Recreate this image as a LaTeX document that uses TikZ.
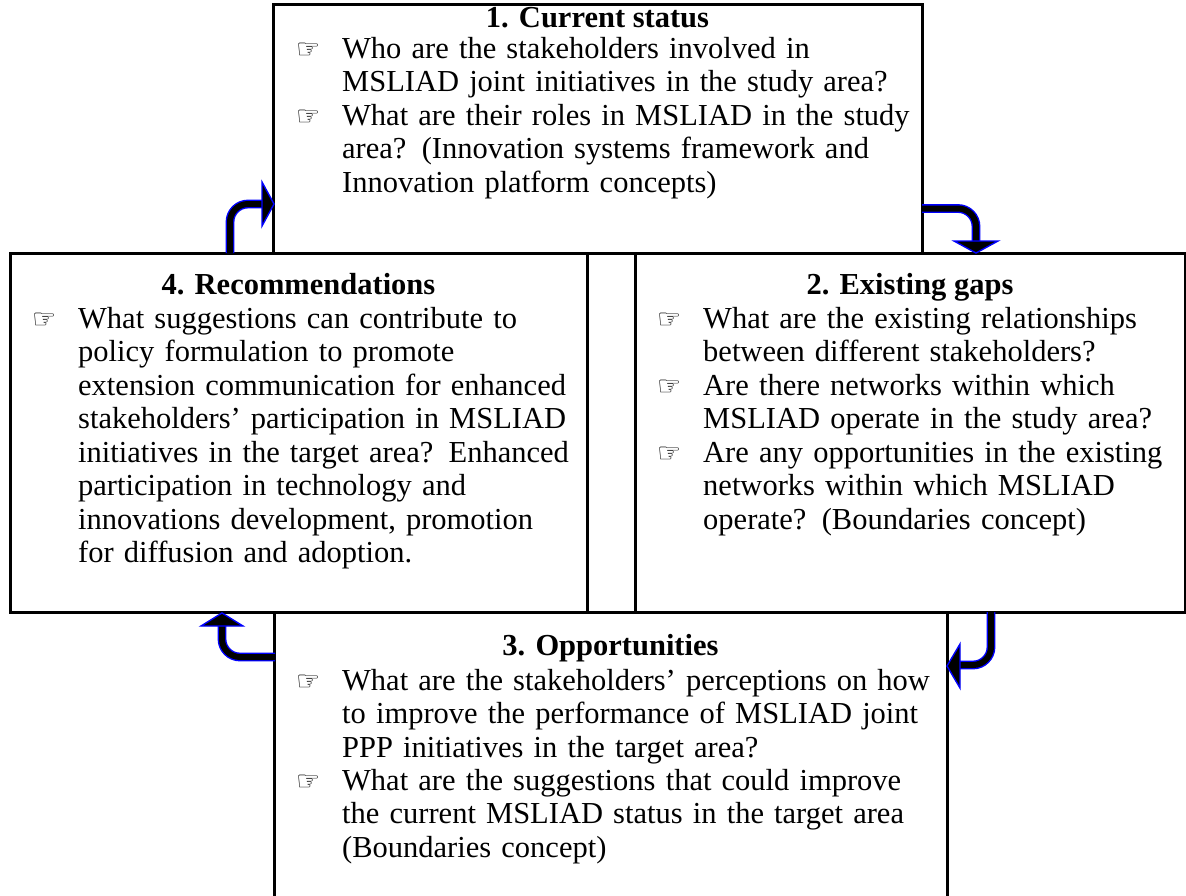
\documentclass[tikz,border=0pt]{standalone}
\usepackage{fontspec}
\setmainfont{Liberation Serif}
\newfontfamily\dejavu{DejaVu Sans}
\newcommand{\handglyph}{{\dejavu\fontsize{27}{27}\selectfont ☞}}
\begin{document}
\begin{tikzpicture}[x=1pt,y=-1pt,
  box/.style={draw, line width=3pt, rectangle, inner sep=0pt, outer sep=0pt},
  head/.style={font=\fontsize{30.5}{33.5}\selectfont\bfseries, anchor=base, inner sep=0pt},
  para/.style={font=\fontsize{30.5}{33.5}\selectfont, anchor=base west, inner sep=0pt, align=left, text width=640pt},
  bul/.style={anchor=base west, inner sep=0pt},
  bentarrow/.style={draw=blue, line width=1.4pt, double=black, double distance=6pt, rounded corners=18pt},
  arrowhead/.style={draw=blue, fill=black, line width=1.4pt, line join=miter}]
\useasboundingbox (0,0) rectangle (1186,895);
\clip (0,0) rectangle (1186,895);
% boxes
\node[box, minimum width=649pt, minimum height=249pt] (b1) at (597.5,128.5) {};
\node[box, minimum width=577pt, minimum height=359pt] (b4) at (298.5,432.5) {};
\node[box, minimum width=550pt, minimum height=359pt] (b2) at (910,432.5) {};
\node[box, minimum width=673pt, minimum height=298pt] (b3) at (610.5,761) {};
% box 1
\node[head] (h1) at (597.5,27) {1. Current status};
\node[bul] (k1a) at (296,58) {\handglyph};
\node[para] (p1a) at (342,58) {Who are the stakeholders involved in\\MSLIAD joint initiatives in the study area?};
\node[bul] (k1b) at (296,125) {\handglyph};
\node[para] (p1b) at (342,125) {What are their roles in MSLIAD in the study\\area? (Innovation systems framework and\\Innovation platform concepts)};
% box 4
\node[head] (h4) at (298.5,294) {4. Recommendations};
\node[bul] (k4a) at (32,328) {\handglyph};
\node[para] (p4a) at (78,328) {What suggestions can contribute to\\policy formulation to promote\\extension communication for enhanced\\stakeholders’ participation in MSLIAD\\initiatives in the target area? Enhanced\\participation in technology and\\innovations development, promotion\\for diffusion and adoption.};
% box 2
\node[head] (h2) at (910,294) {2. Existing gaps};
\node[bul] (k2a) at (657,328) {\handglyph};
\node[para] (p2a) at (703,328) {What are the existing relationships\\between different stakeholders?};
\node[bul] (k2b) at (657,395) {\handglyph};
\node[para] (p2b) at (703,395) {Are there networks within which\\MSLIAD operate in the study area?};
\node[bul] (k2c) at (657,462) {\handglyph};
\node[para] (p2c) at (703,462) {Are any opportunities in the existing\\networks within which MSLIAD\\operate? (Boundaries concept)};
% box 3
\node[head] (h3) at (610.5,655) {3. Opportunities};
\node[bul] (k3a) at (296,690) {\handglyph};
\node[para] (p3a) at (342,690) {What are the stakeholders’ perceptions on how\\to improve the performance of MSLIAD joint\\PPP initiatives in the target area?};
\node[bul] (k3b) at (296,790) {\handglyph};
\node[para] (p3b) at (342,790) {What are the suggestions that could improve\\the current MSLIAD status in the target area\\(Boundaries concept)};
% arrows
\coordinate (a1s) at (230,253); \coordinate (a1c) at (230,204); \coordinate (a1e) at (263,204); \coordinate (a1t) at (274,204);
\draw[bentarrow] (a1s) -- (a1c) -- (a1e);
\draw[arrowhead] (262,182) -- (a1t) -- (262,226) -- cycle;
\coordinate (a2s) at (922,208.5); \coordinate (a2c) at (976,208.5); \coordinate (a2e) at (976,242); \coordinate (a2t) at (976,253);
\draw[bentarrow] (a2s) -- (a2c) -- (a2e);
\draw[arrowhead] (954,241) -- (a2t) -- (998,241) -- cycle;
\coordinate (a3s) at (991,612); \coordinate (a3c) at (991,665); \coordinate (a3e) at (959,665); \coordinate (a3t) at (947,666);
\draw[bentarrow] (a3s) -- (a3c) -- (a3e);
\draw[arrowhead] (960,644) -- (a3t) -- (960,688) -- cycle;
\coordinate (a4s) at (275,657); \coordinate (a4c) at (222,657); \coordinate (a4e) at (222,625); \coordinate (a4t) at (222,613);
\draw[bentarrow] (a4s) -- (a4c) -- (a4e);
\draw[arrowhead] (201,626) -- (a4t) -- (243,626) -- cycle;
\end{tikzpicture}
\end{document}
